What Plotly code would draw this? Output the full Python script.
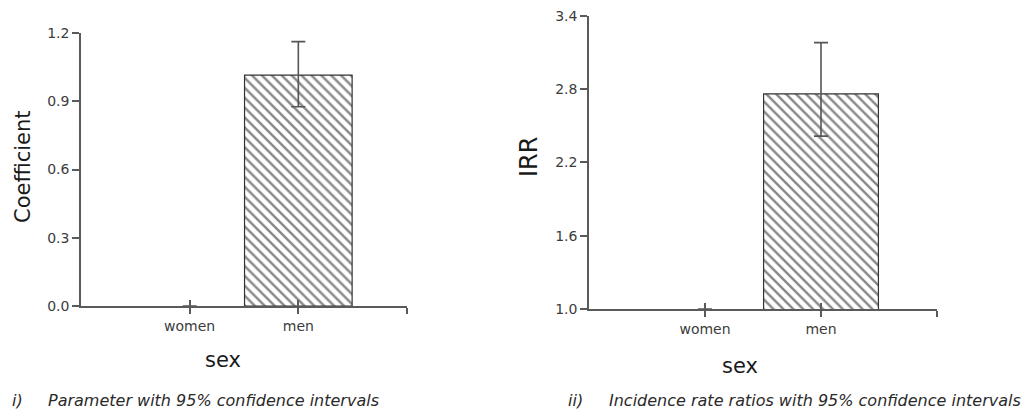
import plotly.graph_objects as go

# ---------------- data ----------------
categories = ["women", "men"]
coef_values = [0.0, 1.015]
coef_upper = [None, 1.162]
coef_lower = [None, 0.876]

irr_values = [1.0, 2.76]
irr_upper = [None, 3.18]
irr_lower = [None, 2.415]

coef_ticks = [0.0, 0.3, 0.6, 0.9, 1.2]
irr_ticks = [1.0, 1.6, 2.2, 2.8, 3.4]

W, H = 1035, 413
OFF = 8  # page body margin offset


def px(x):
    return (x - OFF) / W


def py(y):
    return 1 - (y - OFF) / H


def err_plus(vals, up):
    return [None if u is None else u - v for v, u in zip(vals, up)]


def err_minus(vals, lo):
    return [None if l is None else v - l for v, l in zip(vals, lo)]


xpos = list(range(len(categories)))
tickvals = xpos + [len(categories)]
ticktext = categories + [""]
line_colors = ["rgba(0,0,0,0)", "#333333"]

AX = "#5a5a5a"
TICKFONT = dict(family="DejaVu Sans", size=14, color="#3c3c3c")
TITLEFONT = dict(family="DejaVu Sans", size=21, color="#1a1a1a")
CAPFONT = dict(family="DejaVu Sans", size=16, color="#2a2a2a", style="italic")

fig = go.Figure()


def add_bars(vals, up, lo, xa, ya):
    fig.add_trace(go.Bar(
        x=xpos, y=vals, width=[0.99] * len(xpos),
        xaxis=xa, yaxis=ya,
        marker=dict(color="white",
                    line=dict(color=line_colors, width=1.2),
                    pattern=dict(shape="\\", size=7, solidity=0.35,
                                 fgcolor="#111111", bgcolor="white")),
        error_y=dict(type="data", symmetric=False,
                     array=err_plus(vals, up), arrayminus=err_minus(vals, lo),
                     color="#555555", thickness=1.6, width=7),
        showlegend=False, hoverinfo="skip",
    ))


add_bars(coef_values, coef_upper, coef_lower, "x", "y")
add_bars(irr_values, irr_upper, irr_lower, "x2", "y2")

# invisible traces to carry overlay axes (inner half of the crossing ticks)
fig.add_trace(go.Scatter(x=xpos, y=coef_values, xaxis="x3", yaxis="y",
                         mode="markers", marker=dict(opacity=0),
                         showlegend=False, hoverinfo="skip"))
fig.add_trace(go.Scatter(x=xpos, y=irr_values, xaxis="x4", yaxis="y2",
                         mode="markers", marker=dict(opacity=0),
                         showlegend=False, hoverinfo="skip"))

xcommon = dict(range=[-1, len(categories)], tickmode="array",
               tickvals=tickvals, ticktext=ticktext, automargin=False,
               showgrid=False, zeroline=False, fixedrange=True)

fig.update_layout(
    width=W, height=H, autosize=False,
    margin=dict(l=0, r=0, t=0, b=0, pad=0, autoexpand=False),
    paper_bgcolor="white", plot_bgcolor="white",
    xaxis=dict(**xcommon, domain=[px(81), px(407)], anchor="y",
               showline=True, linecolor=AX, linewidth=1.6,
               ticks="outside", ticklen=6, tickwidth=1.5, tickcolor=AX,
               tickfont=TICKFONT),
    xaxis3=dict(**xcommon, domain=[px(81), px(407)], anchor="y",
                overlaying="x", showline=False, showticklabels=False,
                ticks="inside", ticklen=6, tickwidth=1.5, tickcolor=AX),
    yaxis=dict(domain=[py(306), py(33)], anchor="x", range=[0, 1.2],
               tickmode="array", tickvals=coef_ticks, automargin=False,
               ticktext=[f"{v:.1f}" for v in coef_ticks],
               showline=True, linecolor=AX, linewidth=1.6,
               ticks="outside", ticklen=7, tickwidth=1.5, tickcolor=AX,
               ticklabelstandoff=0, ticklabeloverflow="allow",
               tickfont=TICKFONT, showgrid=False, zeroline=False),
    xaxis2=dict(**xcommon, domain=[px(589), px(937)], anchor="y2",
                showline=True, linecolor=AX, linewidth=1.6,
                ticks="outside", ticklen=6, tickwidth=1.5, tickcolor=AX,
                tickfont=TICKFONT),
    xaxis4=dict(**xcommon, domain=[px(589), px(937)], anchor="y2",
                overlaying="x2", showline=False, showticklabels=False,
                ticks="inside", ticklen=6, tickwidth=1.5, tickcolor=AX),
    yaxis2=dict(domain=[py(309), py(15.7)], anchor="x2", range=[1.0, 3.4],
                tickmode="array", tickvals=irr_ticks, automargin=False,
                ticktext=[f"{v:.1f}" for v in irr_ticks],
                showline=True, linecolor=AX, linewidth=1.6,
                ticks="outside", ticklen=7, tickwidth=1.5, tickcolor=AX,
                ticklabelstandoff=0, ticklabeloverflow="allow",
                tickfont=TICKFONT, showgrid=False, zeroline=False),
)

annots = [
    dict(text="Coefficient", x=px(23), y=py(167), textangle=-90, font=TITLEFONT),
    dict(text="IRR", x=px(529), y=py(157), textangle=-90,
         font=dict(TITLEFONT, size=24)),
    dict(text="sex", x=px(223), y=py(360), font=TITLEFONT),
    dict(text="sex", x=px(740), y=py(366), font=TITLEFONT),
]
for a in annots:
    fig.add_annotation(xref="paper", yref="paper", showarrow=False,
                       xanchor="center", yanchor="middle", **a)

caps = [
    dict(text="i)", x=px(10), y=py(400)),
    dict(text="Parameter with 95% confidence intervals", x=px(46), y=py(400)),
    dict(text="ii)", x=px(566), y=py(400)),
    dict(text="Incidence rate ratios with 95% confidence intervals", x=px(607), y=py(400)),
]
for c in caps:
    fig.add_annotation(xref="paper", yref="paper", showarrow=False,
                       xanchor="left", yanchor="middle", font=CAPFONT, **c)

fig.write_html("out.html")
